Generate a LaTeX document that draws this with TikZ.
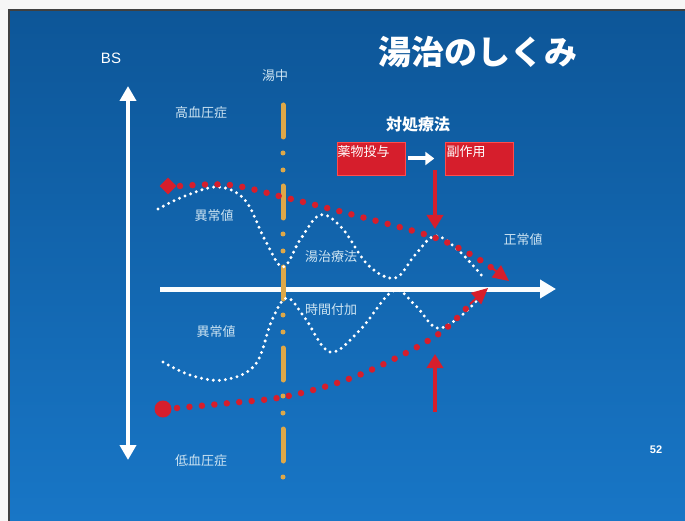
\documentclass[tikz,border=0pt]{standalone}
\usepackage{fontspec}
\setmainfont{Liberation Sans}
\newfontfamily\jp{Noto Sans CJK JP}
\usetikzlibrary{arrows.meta}
\definecolor{bgtop}{RGB}{13,86,152}
\definecolor{bgbot}{RGB}{24,118,198}
\definecolor{lbl}{RGB}{205,228,242}
\definecolor{redc}{RGB}{214,30,44}
\definecolor{goldc}{RGB}{222,168,72}
\tikzset{
  lab/.style={text=lbl, font=\jp\fontsize{13}{15}\selectfont, inner sep=0},
  redbox/.style={fill=redc, draw=red!70!white, line width=0.6, minimum width=68, minimum height=33, inner sep=0},
  boxtxt/.style={text=white, font=\jp\fontsize{13}{15}\selectfont, inner sep=0},
  wdots/.style={draw=white, line width=3.3, line cap=round, dash pattern=on 0pt off 6pt},
  rdots/.style={draw=redc, line width=6.5, line cap=round, dash pattern=on 0pt off 12.5pt},
  axis/.style={draw=white, line width=4},
  rarrow/.style={draw=redc, line width=3.5, -{Triangle[length=14,width=16]}}
}
\begin{document}
\begin{tikzpicture}[x=1pt,y=-1pt]
\useasboundingbox (0,0) rectangle (685,521);
\fill[white!93!gray] (0,0) rectangle (685,521);
\shade[top color=bgtop, bottom color=bgbot] (9,10) rectangle (685,521);
\draw[black!75, line width=1.3] (9,521) -- (9,10) -- (685,10);

% title and labels
\node[text=white, font=\jp\bfseries\fontsize{33}{36}\selectfont, inner sep=0] (title) at (478,52) {湯治のしくみ};
\node[text=white, font=\fontsize{15}{17}\selectfont, inner sep=0] (bs) at (111,58) {BS};
\node[lab] (yuchu) at (275,76) {湯中};
\node[lab] (hbp) at (201,113) {高血圧症};
\node[lab] (lbp) at (201,461) {低血圧症};
\node[lab] (ab1) at (214,216) {異常値};
\node[lab] (ab2) at (216,332) {異常値};
\node[lab] (norm) at (523,240) {正常値};
\node[lab] (tojiryo) at (331,257) {湯治療法};
\node[lab] (jikan) at (331,310) {時間付加};
\node[text=white, font=\jp\bfseries\fontsize{16}{18}\selectfont, inner sep=0] (taisho) at (418,124) {対処療法};
\node[text=white, font=\bfseries\fontsize{11}{13}\selectfont, inner sep=0] (pg) at (656,450) {52};

% red boxes
\node[redbox] (drug) at (371,158.5) {};
\node[boxtxt, anchor=north west] at (337.5,145) {薬物投与};
\node[redbox] (side) at (479,158.5) {};
\node[boxtxt, anchor=north west] at (446.5,145) {副作用};
\draw[white, line width=4, -{Triangle[length=9,width=13]}] (drug.east) ++(3,0) coordinate (da) -- ++(26,0) coordinate (db);

% axes
\coordinate (vt) at (128,86);
\coordinate (vb) at (128,460);
\draw[axis, {Triangle[length=15,width=16]}-{Triangle[length=15,width=16]}] (vt) -- (vb);
\coordinate (hl) at (160,289);
\coordinate (hr) at (556,289);
\draw[draw=white!92!lbl, line width=5, -{Triangle[length=16,width=18]}] (hl) -- (hr);

% orange dash-dot line
\draw[goldc, line width=5, line cap=round, dash pattern=on 32pt off 16pt on 0pt off 17pt on 0pt off 16pt] (283,105) -- (283,484);

% white waves
\draw[wdots] plot[smooth, tension=0.6] coordinates {(158,209) (185,196) (218,187) (245,200) (265,240) (283,267) (300,240) (320,215) (342,228) (368,265) (395,278) (415,255) (435,236) (458,250) (483,277)};
\draw[wdots] plot[smooth, tension=0.6] coordinates {(163,362) (190,375) (223,380) (255,365) (272,320) (287,298) (305,318) (330,352) (360,330) (393,291) (415,305) (437,328) (462,315) (480,297)};

% red dotted curves
\node[fill=redc, minimum size=12, inner sep=0, rotate=45] (dia) at (168,186) {};
\draw[rdots] plot[smooth, tension=0.6] coordinates {(180,186) (230,185) (283,197) (350,214) (430,236) (468,253) (492,268)};
\coordinate (ra1) at (492,268);
\coordinate (ra2) at (509,281);
\draw[redc, line width=2, -{Triangle[length=16,width=15]}] (ra1) -- (ra2);
\node[circle, fill=redc, minimum size=17, inner sep=0] (circ) at (163,409) {};
\draw[rdots] plot[smooth, tension=0.6] coordinates {(177,408) (230,403) (283,397) (340,382) (388,362) (440,333) (472,302)};
\coordinate (rb1) at (470,304);
\coordinate (rb2) at (488,288);
\draw[redc, line width=2, -{Triangle[length=16,width=15]}] (rb1) -- (rb2);

% red vertical arrows
\coordinate (dtop) at (435,170);
\coordinate (dbot) at (435,229);
\draw[rarrow] (dtop) -- (dbot);
\coordinate (ubot) at (435,412);
\coordinate (utop) at (435,354);
\draw[rarrow] (ubot) -- (utop);
\end{tikzpicture}
\end{document}
